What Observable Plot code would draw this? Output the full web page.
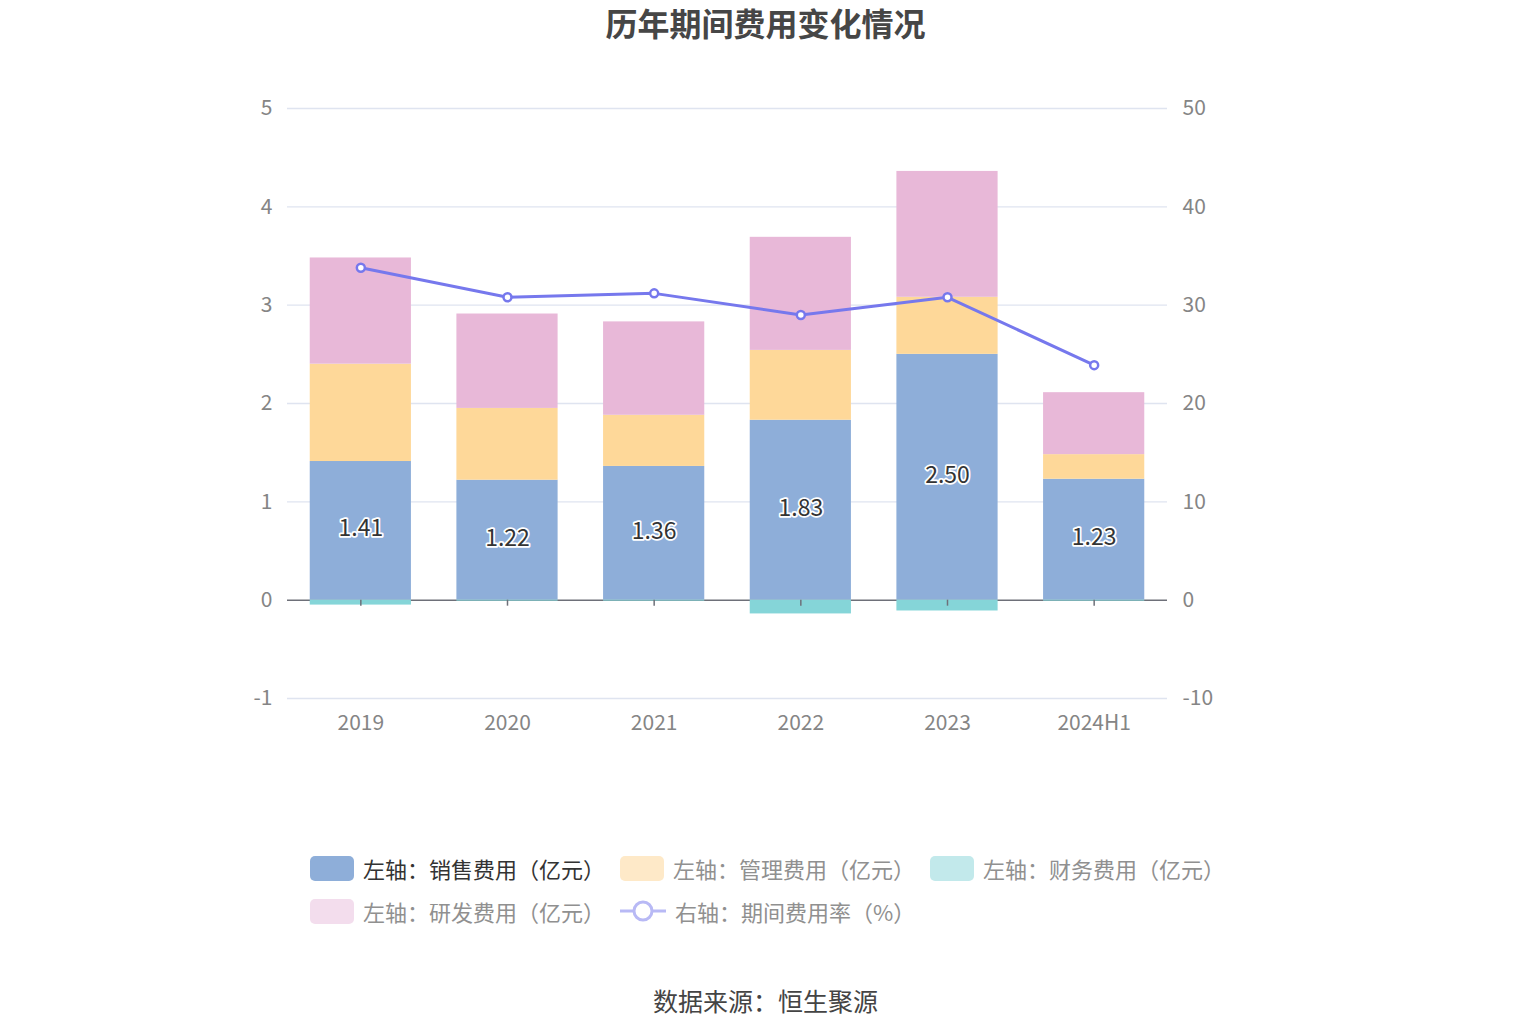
<!DOCTYPE html>
<html><head><meta charset="utf-8">
<script src="https://cdn.jsdelivr.net/npm/d3@7"></script>
<script src="https://cdn.jsdelivr.net/npm/@observablehq/plot@0.6"></script>
<style>
body{margin:0;background:#fff;font-family:"Noto Sans CJK SC","Noto Sans",sans-serif;width:1531px;height:1034px;overflow:hidden;position:relative}
#title{position:absolute;top:0;left:0;width:1531px;text-align:center;font-size:32px;font-weight:bold;color:#464646;line-height:44px}
#chart{position:absolute;top:50px;left:0}
.item{position:absolute;display:flex;align-items:center;height:30px;font-size:22px;white-space:nowrap}
.sw{width:44px;height:25px;border-radius:5px;margin-right:9px}
#source{position:absolute;top:982px;left:0;width:1531px;text-align:center;font-size:25px;color:#444;line-height:36px}
</style></head>
<body>
<div id="title">历年期间费用变化情况</div>
<div id="chart"></div>
<div id="legend"></div>
<div id="source">数据来源：恒生聚源</div>
<script>
const categories = ["2019","2020","2021","2022","2023","2024H1"];
const sales   = [1.41, 1.22, 1.36, 1.83, 2.50, 1.23];
const admin   = [0.99, 0.73, 0.52, 0.71, 0.58, 0.25];
const finance = [-0.05, -0.01, -0.01, -0.14, -0.11, -0.01];
const rd      = [1.08, 0.96, 0.95, 1.15, 1.28, 0.63];
const rate    = [33.8, 30.8, 31.2, 29.0, 30.8, 23.9];
const leftTicks = [-1, 0, 1, 2, 3, 4, 5];
const seriesNames = ["左轴：销售费用（亿元）","左轴：管理费用（亿元）","左轴：财务费用（亿元）","左轴：研发费用（亿元）"];
const lineName = "右轴：期间费用率（%）";
const colors = ["#8eaed9","#fed899","#85d5d8","#e8b8d8"];
const lineColor = "#7678ed";

const seriesValues = [sales, admin, finance, rd];
const table = [];
categories.forEach((c, i) => {
  seriesValues.forEach((arr, s) => table.push({cat: c, s, value: arr[i]}));
});
const rateData = categories.map((c, i) => ({cat: c, rate: rate[i]}));
const salesData = categories.map((c, i) => ({cat: c, v: sales[i]}));

const fontFamily = '"Noto Sans CJK SC","Noto Sans",sans-serif';
const chart = Plot.plot({
  width: 1531,
  height: 700,
  marginLeft: 287,
  marginRight: 364,
  marginTop: 58,
  marginBottom: 52,
  style: {fontFamily, background: "transparent"},
  x: {domain: categories, paddingInner: 0.31, paddingOuter: 0.155, round: false, label: null},
  y: {domain: [-1, 5], label: null},
  marks: [
    Plot.gridY(leftTicks.filter(d => d !== 0), {stroke: "#dfe4f0", strokeOpacity: 1, strokeWidth: 1.3}),
    Plot.ruleY([0], {stroke: "#6e7079", strokeWidth: 1.5}),
    Plot.barY(table, Plot.stackY({x: "cat", y: "value", fill: d => colors[d.s]})),
    Plot.ruleX(categories, {x: d => d, y1: 0, y2: 0, insetBottom: -6, stroke: "#6e7079", strokeWidth: 1.5}),
    Plot.axisY(leftTicks, {anchor: "left", tickSize: 0, tickPadding: 15, fontSize: 21, fill: "#858585", tickFormat: d => String(d), label: null}),
    Plot.axisY(leftTicks, {anchor: "right", tickSize: 0, tickPadding: 15, fontSize: 21, fill: "#858585", tickFormat: d => String(d * 10), label: null}),
    Plot.axisX({tickSize: 0, tickPadding: 17, fontSize: 21, fill: "#858585", label: null}),
    Plot.text(salesData, {x: "cat", y: d => d.v / 2, text: d => d.v.toFixed(2), fill: "#333", stroke: "white", strokeWidth: 3.5, fontSize: 23, dy: -2}),
    Plot.line(rateData, {x: "cat", y: d => d.rate / 10, stroke: lineColor, strokeWidth: 3}),
    Plot.dot(rateData, {x: "cat", y: d => d.rate / 10, r: 4, fill: "white", stroke: lineColor, strokeWidth: 2.5})
  ]
});
document.getElementById("chart").appendChild(chart);

// Legend
const legend = document.getElementById("legend");
const faded = ["#8eaed9","#fee9c8","#c2e9eb","#f3dded"];
const positions = [[310, 853], [620, 853], [930, 853], [310, 896]];
seriesNames.forEach((name, i) => {
  const it = document.createElement("div");
  it.className = "item";
  it.style.left = positions[i][0] + "px";
  it.style.top = positions[i][1] + "px";
  it.style.color = i === 0 ? "#333" : "#909090";
  it.innerHTML = `<div class="sw" style="background:${faded[i]}"></div><span>${name}</span>`;
  legend.appendChild(it);
});
const li = document.createElement("div");
li.className = "item";
li.style.left = "620px";
li.style.top = "896px";
li.style.color = "#909090";
li.innerHTML = `<svg width="46" height="30" style="margin-right:9px"><line x1="0" y1="15" x2="46" y2="15" stroke="#b8b9f5" stroke-width="3"/><circle cx="23" cy="15" r="9" fill="white" stroke="#b8b9f5" stroke-width="3"/></svg><span>${lineName}</span>`;
legend.appendChild(li);
</script>
</body></html>
